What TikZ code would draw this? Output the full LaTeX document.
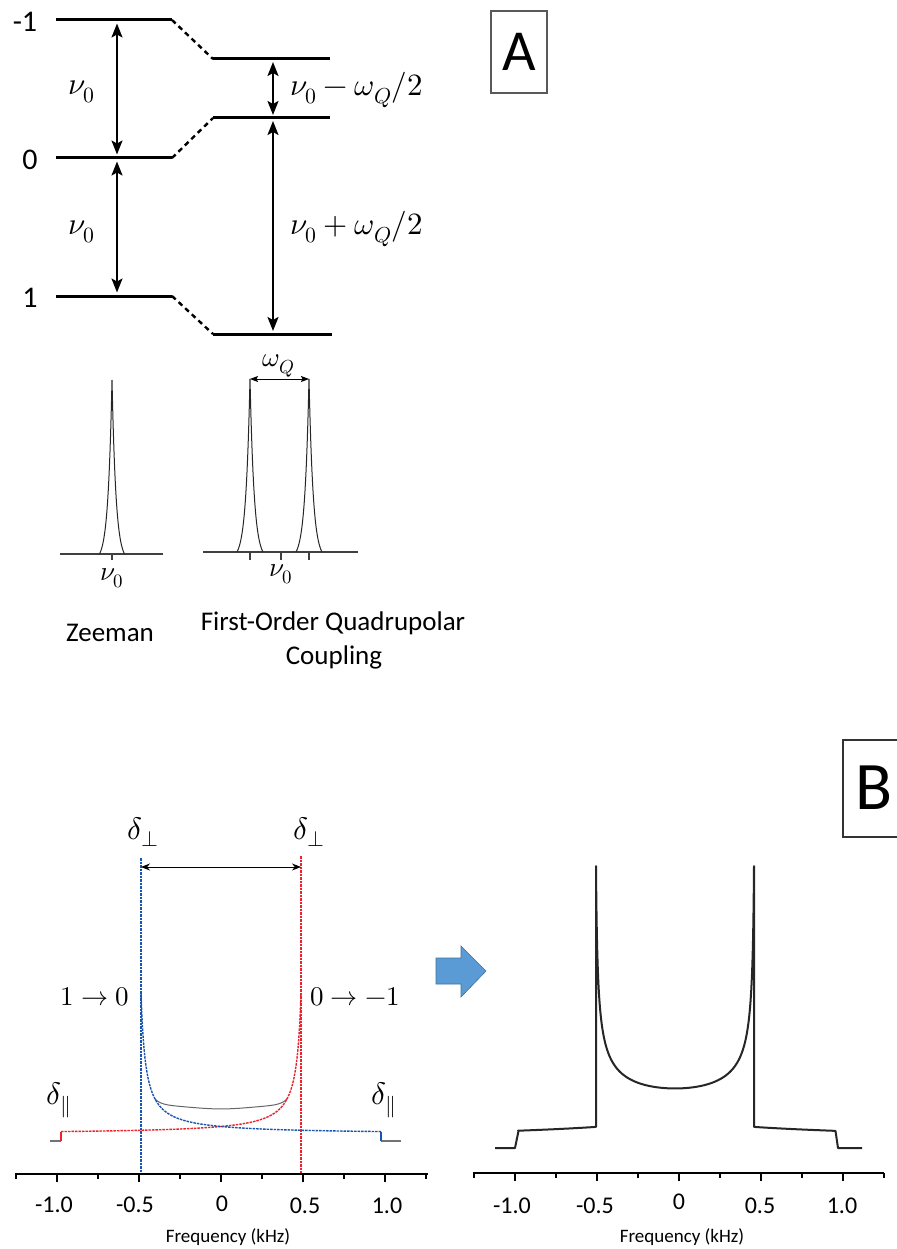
\documentclass[tikz,border=0pt]{standalone}
\usepackage{fontspec}
\usepackage{unicode-math}
\setmathfont{Latin Modern Math}
\newfontfamily\carl{Carlito}
\usetikzlibrary{arrows.meta}
\definecolor{sred}{RGB}{235,35,45}
\definecolor{sblue}{RGB}{25,85,175}
\definecolor{arrowblue}{RGB}{91,155,213}
\definecolor{arrowedge}{RGB}{65,113,156}
\begin{document}
\begin{tikzpicture}[x=1pt,y=-1pt,
  enlevel/.style={line width=3pt},
  conn/.style={line width=2.4pt, dash pattern=on 5pt off 4pt},
  gaparrow/.style={line width=2pt, arrows={Stealth[length=14pt,width=11pt,inset=3pt]-Stealth[length=14pt,width=11pt,inset=3pt]}},
  smallarrow/.style={line width=0.9pt, arrows={Stealth[length=8pt,width=6pt,inset=1.5pt]-Stealth[length=8pt,width=6pt,inset=1.5pt]}},
  lvltxt/.style={font=\carl\fontsize{30}{32}\selectfont, inner sep=0pt},
  mth/.style={font=\fontsize{31}{33}\selectfont, inner sep=0pt},
  mths/.style={font=\fontsize{27}{29}\selectfont, inner sep=0pt},
  captxt/.style={font=\carl\fontsize{27}{29}\selectfont, inner sep=0pt},
  ticktxt/.style={font=\carl\fontsize{24}{26}\selectfont, inner sep=0pt},
  freqtxt/.style={font=\carl\fontsize{19}{21}\selectfont, inner sep=0pt},
  peakln/.style={line width=1pt, black!85},
  baseln/.style={line width=1.3pt, black!75},
  axisln/.style={line width=1.5pt, black},
  compln/.style={line width=1.4pt, dash pattern=on 2.5pt off 1pt},
  declare function={
    rl(\v)=6.75+2.75/((80-\v)/240+0.0195);
    bl(\v)=6.75+2.75/((80+\v)/240+0.0195);
    qf(\v)=(\v/66)*(\v/66)*(\v/66)*(\v/66);
    gl(\v)=rl(\v)+bl(\v)+3-(min(rl(\v),bl(\v))+3)*qf(\v);
    rr(\v)=17.3/sqrt((79-\v)/237+0.0044);
    br(\v)=17.3/sqrt((79+\v)/237+0.0044);
    lz(\v)=(exp(-abs(\v)/4)-0.0439)/(1-0.0439);
  }]
\fill[white] (0,0) rectangle (896,1249);
\path[use as bounding box] (0,0) rectangle (896,1249);

% ---------------- Part A : energy levels ----------------
\coordinate (Ma) at (56,20);  \coordinate (Mb) at (172,20);  \coordinate (Mc) at (213,59);  \coordinate (Md) at (330,59);
\coordinate (Za) at (56,158); \coordinate (Zb) at (172,158); \coordinate (Zc) at (213,118); \coordinate (Zd) at (330,118);
\coordinate (Pa) at (56,296); \coordinate (Pb) at (172,296); \coordinate (Pc) at (213,334); \coordinate (Pd) at (332,334);
\draw[enlevel] (Ma) -- (Mb); \draw[conn] (Mb) -- (Mc); \draw[enlevel] (Mc) -- (Md);
\draw[enlevel] (Za) -- (Zb); \draw[conn] (Zb) -- (Zc); \draw[enlevel] (Zc) -- (Zd);
\draw[enlevel] (Pa) -- (Pb); \draw[conn] (Pb) -- (Pc); \draw[enlevel] (Pc) -- (Pd);

\coordinate (a1t) at (117,20); \coordinate (a1b) at (117,158); \coordinate (a2b) at (117,296);
\coordinate (b1t) at (273,59); \coordinate (b1b) at (273,118); \coordinate (b2b) at (273,334);
\draw[gaparrow, shorten <=3.5pt, shorten >=3.5pt] (a1t) -- (a1b);
\draw[gaparrow, shorten <=3.5pt, shorten >=3.5pt] (a1b) -- (a2b);
\draw[gaparrow, shorten <=3pt, shorten >=3pt] (b1t) -- (b1b);
\draw[gaparrow, shorten <=3pt, shorten >=3pt] (b1b) -- (b2b);

\node[lvltxt] (tm1) at (25,22) {-1};
\node[lvltxt] (tz) at (30,160) {0};
\node[lvltxt] (tp) at (30,298) {1};
\node[mth] (nu1) at (82,92) {$\nu_0$};
\node[mth] (nu2) at (82,232) {$\nu_0$};
\node[mth, anchor=west] (q1) at (290,90) {$\nu_0-\omega_Q/2$};
\node[mth, anchor=west] (q2) at (290,229) {$\nu_0+\omega_Q/2$};

\node[draw=black!65, line width=1.2pt, minimum width=56pt, minimum height=82pt, inner sep=0pt,
      font=\carl\fontsize{58}{60}\selectfont] (boxA) at (519,52) {A};

% ---------------- Part A : spectra ----------------
\coordinate (zl) at (60,554); \coordinate (zr) at (163,554);
\draw[baseln] (zl) -- (zr);
\draw[peakln] plot[domain=-12.5:12.5, samples=61] ({112+\x}, {554-174*lz(\x)});
\coordinate (zt1) at (112,554); \coordinate (zt2) at (112,560);
\draw[baseln] (zt1) -- (zt2);
\node[mths] (nuz) at (112,578) {$\nu_0$};
\node[captxt] (zee) at (110,633) {Zeeman};

\coordinate (ql) at (203,552); \coordinate (qr) at (358,552);
\draw[baseln] (ql) -- (qr);
\draw[peakln] plot[domain=-13:13, samples=61] ({250+\x}, {552-173*lz(\x*12.5/13)});
\draw[peakln] plot[domain=-13:13, samples=61] ({309+\x}, {552-173*lz(\x*12.5/13)});
\foreach \t/\n in {250/qa,281/qb,309/qc}{
  \coordinate (\n1) at (\t,552); \coordinate (\n2) at (\t,560);
  \draw[baseln] (\n1) -- (\n2);
}
\coordinate (wl) at (250,379); \coordinate (wr) at (309,379);
\draw[smallarrow] (wl) -- (wr);
\node[mths] (wq) at (279,366) {$\omega_Q$};
\node[mths] (nuq) at (281,574) {$\nu_0$};
\node[captxt] (foq1) at (333,623) {First-Order Quadrupolar};
\node[captxt] (foq2) at (334,657) {Coupling};

% ---------------- Part B : box and arrow ----------------
\coordinate (Bt) at (900,740); \coordinate (Btl) at (843,740); \coordinate (Bbl) at (843,837); \coordinate (Bb) at (900,837);
\draw[black!80, line width=1.2pt] (Bt) -- (Btl) -- (Bbl) -- (Bb);
\node[font=\carl\fontsize{68}{70}\selectfont, inner sep=0pt] (labB) at (874,788) {B};

\fill[arrowblue, draw=arrowedge, line width=0.6pt] (436,958) -- (461,958) -- (461,946) -- (486,971) -- (461,997) -- (461,984) -- (436,984) -- cycle;

% ---------------- Part B : left panel ----------------
\coordinate (ax1) at (15,1174); \coordinate (ax2) at (428,1174);
\draw[axisln] (ax1) -- (ax2);
\foreach \k in {-5,...,5}{
  \pgfmathsetmacro{\tx}{221+41*\k}
  \pgfmathsetmacro{\tl}{ifthenelse(mod(abs(\k),2)==0 && abs(\k)<5,8,4.5)}
  \draw[line width=1.3pt] (\tx,1174) -- (\tx,1174+\tl);
}
\node[ticktxt] (l1) at (54,1205) {-1.0};
\node[ticktxt] (l2) at (135,1205) {-0.5};
\node[ticktxt] (l3) at (222,1204) {0};
\node[ticktxt] (l4) at (305,1206) {0.5};
\node[ticktxt] (l5) at (387,1206) {1.0};
\node[freqtxt] (fl) at (228,1237) {Frequency (kHz)};

\coordinate (g1) at (50,1141); \coordinate (g2) at (61,1141);
\coordinate (g3) at (381,1141); \coordinate (g4) at (401,1141);
\draw[black!55, line width=1.1pt] (g1) -- (g2);
\draw[black!55, line width=1.1pt] (g3) -- (g4);
\draw[black!60, line width=1pt] plot[domain=-66:66, samples=67] ({221+\x}, {1141-gl(\x)});
\draw[sred, line width=1.4pt] (61,1141) -- (61,1131.5);
\draw[sred, compln] plot[domain=1:0, samples=120, variable=\u] ({301-240*\u*\u}, {1141-rl(80-240*\u*\u)});
\draw[sblue, line width=1.4pt] (381,1141) -- (381,1131.5);
\draw[sblue, compln] plot[domain=1:0, samples=120, variable=\u] ({141+240*\u*\u}, {1141-bl(-80+240*\u*\u)});
\coordinate (vb1) at (141,858); \coordinate (vb2) at (141,1173);
\coordinate (vr1) at (301,856); \coordinate (vr2) at (301,1173);
\draw[sblue, compln] (vb1) -- (vb2);
\draw[sred, compln] (vr1) -- (vr2);
\coordinate (hl) at (141,867); \coordinate (hr) at (301,867);
\draw[line width=0.9pt, arrows={Stealth[length=9pt,width=7pt]-Stealth[length=9pt,width=7pt]}] (hl) -- (hr);

\node[mth] (dp1) at (143,832) {$\delta_\perp$};
\node[mth] (dp2) at (309,832) {$\delta_\perp$};
\node[mths] (t10) at (95,997) {$1\rightarrow 0$};
\node[mths] (t01) at (355,997) {$0\rightarrow -1$};
\node[mth] (dl1) at (59,1100) {$\delta_\parallel$};
\node[mth] (dl2) at (384,1100) {$\delta_\parallel$};

% ---------------- Part B : right panel ----------------
\coordinate (bx1) at (473,1173); \coordinate (bx2) at (884,1173);
\draw[axisln] (bx1) -- (bx2);
\foreach \k in {-5,...,5}{
  \pgfmathsetmacro{\tx}{679+41*\k}
  \pgfmathsetmacro{\tl}{ifthenelse(mod(abs(\k),2)==0 && abs(\k)<5,8,4.5)}
  \draw[line width=1.3pt] (\tx,1173) -- (\tx,1173+\tl);
}
\node[ticktxt] (r1) at (512,1206) {-1.0};
\node[ticktxt] (r2) at (595,1206) {-0.5};
\node[ticktxt] (r3) at (679,1202) {0};
\node[ticktxt] (r4) at (760,1206) {0.5};
\node[ticktxt] (r5) at (842,1206) {1.0};
\node[freqtxt] (fr) at (682,1237) {Frequency (kHz)};

\draw[black!85, line width=2pt, line join=round]
  (495,1148) -- (515,1148) -- (518.5,1131)
  -- plot[domain=-157:-79, samples=30] ({675+\x}, {1148-rr(\x)})
  -- plot[domain=-90:90, samples=181, variable=\t] ({675+79*sin(\t)}, {1148-rr(79*sin(\t))-br(79*sin(\t))})
  -- plot[domain=79:157, samples=30] ({675+\x}, {1148-br(\x)})
  -- (835.5,1131) -- (838,1148) -- (862,1148);
\end{tikzpicture}
\end{document}
